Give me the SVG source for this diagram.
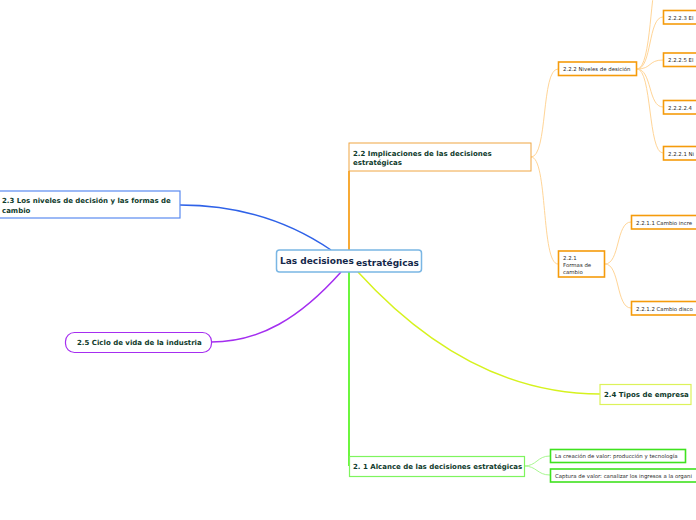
<svg xmlns="http://www.w3.org/2000/svg" width="696" height="520" viewBox="0 0 696 520">
<style>
text{font-family:"DejaVu Sans","Verdana",sans-serif}
.main{font-size:7px;font-weight:bold;fill:#0f3b2c}
.small{font-size:5.4px;fill:#2a2a2a}
.ob{stroke:#f59b0b;stroke-width:1.6;fill:#fff}
.oc{stroke:#ffd597;stroke-width:1;fill:none}
.gc{stroke:#a8f890;stroke-width:1;fill:none}
</style>
<rect width="696" height="520" fill="#fff"/>
<g id="connectors" fill="none">
<path d="M349,250 L349,171" stroke="#f7a120" stroke-width="1.8"/>
<path d="M349,272 L349,466" stroke="#5df52a" stroke-width="1.8"/>
<path d="M331,250 C 290,222 240,205 180,205" stroke="#2f62e8" stroke-width="1.5"/>
<path d="M341,272 C 300,318 260,342 211,342" stroke="#a42ef0" stroke-width="1.5"/>
<path d="M358,272 C 420,340 500,394 600,394" stroke="#d6f21e" stroke-width="1.5"/>
<path class="oc" d="M531,157 C 548,157 541,69 558,69"/>
<path class="oc" d="M531,157 C 548,157 541,264 558,264"/>
<path class="oc" d="M637,69 C 652,69 650,-20 658,-20"/>
<path class="oc" d="M637,69 C 652,69 648,17 663,17"/>
<path class="oc" d="M637,69 C 652,69 648,60 663,60"/>
<path class="oc" d="M637,69 C 652,69 648,107 663,107"/>
<path class="oc" d="M637,69 C 652,69 648,153 663,153"/>
<path class="oc" d="M605,264 C 620,264 616,222 631,222"/>
<path class="oc" d="M605,264 C 620,264 616,308 631,308"/>
<path class="gc" d="M524,466 C 537,466 537,456 550,456"/>
<path class="gc" d="M524,466 C 537,466 537,475 550,475"/>
</g>
<g id="center">
<rect x="276.5" y="250" width="145" height="22" rx="3" fill="#fff" stroke="#7ab6e4" stroke-width="1.5"/>
<text x="280" y="264" font-size="9" font-weight="bold" fill="#14284a">Las decisiones</text>
<text x="356" y="266" font-size="9" font-weight="bold" fill="#14284a">estratégicas</text>
</g>
<g id="n22">
<rect x="349" y="143" width="182" height="28" fill="#fff" stroke="#f0a643" stroke-width="1"/>
<text class="main" x="353" y="156">2.2 Implicaciones de las decisiones</text>
<text class="main" x="353" y="165">estratégicas</text>
</g>
<g id="n23">
<rect x="-2" y="191" width="182" height="27" fill="#fff" stroke="#5a8af0" stroke-width="1.2"/>
<text class="main" x="2" y="203">2.3 Los niveles de decisión y las formas de</text>
<text class="main" x="2" y="213">cambio</text>
</g>
<g id="n25">
<rect x="65.5" y="332.5" width="146" height="20" rx="9" fill="#fff" stroke="#a62ef0" stroke-width="1.2"/>
<text class="main" x="77" y="345">2.5 Ciclo de vida de la industria</text>
</g>
<g id="n24">
<rect x="600" y="384.5" width="91" height="20" fill="#fff" stroke="#dcf25a" stroke-width="1.2"/>
<text class="main" x="604" y="397">2.4 Tipos de empresa</text>
</g>
<g id="n21">
<rect x="349.5" y="456.5" width="175" height="20" fill="#fff" stroke="#7ef55e" stroke-width="1.2"/>
<text class="main" x="353" y="469">2. 1 Alcance de las decisiones estratégicas</text>
</g>
<g id="n21a">
<rect x="550.5" y="449.5" width="135" height="13" fill="#fff" stroke="#3fe21e" stroke-width="1.6"/>
<text class="small" x="555" y="458">La creación de valor: producción y tecnología</text>
</g>
<g id="n21b">
<rect x="550.5" y="469" width="150" height="13" fill="#fff" stroke="#3fe21e" stroke-width="1.6"/>
<text class="small" x="555" y="477.5">Captura de valor: canalizar los ingresos a la organi</text>
</g>
<g id="n222">
<rect class="ob" x="558.5" y="62" width="78" height="13.5"/>
<text class="small" x="563" y="71">2.2.2 Niveles de desición</text>
</g>
<g id="n221">
<rect class="ob" x="558.5" y="251" width="46" height="26"/>
<text class="small" x="563" y="260">2.2.1</text>
<text class="small" x="563" y="267">Formas de</text>
<text class="small" x="563" y="273.5">cambio</text>
</g>
<g id="n2223">
<rect class="ob" x="663.5" y="10.5" width="40" height="13.5"/>
<text class="small" x="668" y="19.5">2.2.2.3 El</text>
</g>
<g id="n2225">
<rect class="ob" x="663.5" y="53" width="40" height="13.5"/>
<text class="small" x="668" y="62">2.2.2.5 El</text>
</g>
<g id="n22224">
<rect class="ob" x="663.5" y="100.5" width="40" height="13.5"/>
<text class="small" x="668" y="109.5">2.2.2.2.4</text>
</g>
<g id="n2221">
<rect class="ob" x="663.5" y="146.5" width="40" height="13.5"/>
<text class="small" x="668" y="155.5">2.2.2.1 Ni</text>
</g>
<g id="n2211">
<rect class="ob" x="631.5" y="215.5" width="70" height="13.5"/>
<text class="small" x="636" y="224.5">2.2.1.1 Cambio incre</text>
</g>
<g id="n2212">
<rect class="ob" x="631.5" y="301.5" width="70" height="13.5"/>
<text class="small" x="636" y="310.5">2.2.1.2 Cambio disco</text>
</g>
</svg>
